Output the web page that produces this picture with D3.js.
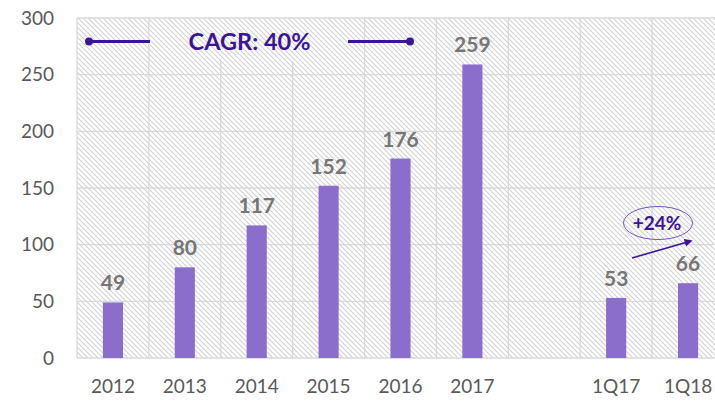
<!DOCTYPE html>
<html><head><meta charset="utf-8">
<script src="https://cdn.jsdelivr.net/npm/d3@7"></script>
<style>body{margin:0;background:#fff;}svg{display:block;font-family:Lato,"Open Sans",sans-serif;}</style>
</head><body>
<svg id="c" width="715" height="401"></svg>
<script>
const categories = ["2012","2013","2014","2015","2016","2017","","1Q17","1Q18"];
const values = [49,80,117,152,176,259,null,53,66];
const yTicks = [0,50,100,150,200,250,300];
const cagrLabel = "CAGR: 40%";
const growthLabel = "+24%";

const svg = d3.select("#c");
const m = {left:77, top:18, bottom:358, right:724};

const x = d3.scaleBand().domain(d3.range(categories.length)).range([m.left, m.right]).paddingInner(0).paddingOuter(0);
const y = d3.scaleLinear().domain([0,300]).range([m.bottom, m.top]);

const defs = svg.append("defs");
const pat = defs.append("pattern").attr("id","hatch").attr("patternUnits","userSpaceOnUse")
  .attr("width",5).attr("height",5);
pat.append("rect").attr("width",5).attr("height",5).attr("fill","#fff");
pat.append("path").attr("d","M-1,-1 L6,6 M-1,4 L1,6 M4,-1 L6,1").attr("stroke","#d3d3d3").attr("stroke-width",1.1);

svg.append("rect").attr("x",m.left).attr("y",m.top).attr("width",m.right-m.left).attr("height",m.bottom-m.top).attr("fill","url(#hatch)");

svg.append("g").selectAll("line").data(yTicks).join("line")
  .attr("x1",m.left).attr("x2",m.right).attr("y1",d=>y(d)).attr("y2",d=>y(d))
  .attr("stroke","#d9d9d9").attr("stroke-width",1.3);
svg.append("g").selectAll("line").data(d3.range(categories.length+1)).join("line")
  .attr("x1",d=>m.left+d*x.step()).attr("x2",d=>m.left+d*x.step())
  .attr("y1",m.top).attr("y2",m.bottom)
  .attr("stroke","#d9d9d9").attr("stroke-width",1.3);

svg.append("rect").attr("x",152).attr("y",m.top+1).attr("width",210).attr("height",42).attr("fill","url(#hatch)");

svg.append("g").selectAll("text").data(yTicks).join("text")
  .attr("x",54).attr("y",d=>y(d)+6.5).attr("text-anchor","end")
  .attr("font-size",19).attr("fill","#595959").text(d=>d);

svg.append("g").selectAll("text").data(categories).join("text")
  .attr("x",(d,i)=>x(i)+x.bandwidth()/2).attr("y",393).attr("text-anchor","middle")
  .attr("font-size",19).attr("fill","#595959").text(d=>d);

const bw = x.bandwidth()*0.28;
const data = values.map((v,i)=>({v,i})).filter(d=>d.v!=null);
svg.append("g").selectAll("rect").data(data).join("rect")
  .attr("x",d=>x(d.i)+x.bandwidth()/2-bw/2).attr("width",bw)
  .attr("y",d=>y(d.v)).attr("height",d=>y(0)-y(d.v))
  .attr("fill","#8b6dcb");

svg.append("g").selectAll("text").data(data).join("text")
  .attr("x",d=>x(d.i)+x.bandwidth()/2).attr("y",d=>y(d.v)-12).attr("text-anchor","middle")
  .attr("font-size",21).attr("font-weight","bold").attr("fill","#767676").text(d=>d.v);

const pc = "#3d1496";
const g = svg.append("g");
g.append("line").attr("x1",89).attr("x2",150).attr("y1",41.5).attr("y2",41.5).attr("stroke",pc).attr("stroke-width",3);
g.append("line").attr("x1",348).attr("x2",410).attr("y1",41.5).attr("y2",41.5).attr("stroke",pc).attr("stroke-width",3);
g.append("circle").attr("cx",89).attr("cy",41.5).attr("r",4).attr("fill",pc);
g.append("circle").attr("cx",410).attr("cy",41.5).attr("r",4).attr("fill",pc);
g.append("text").attr("x",249.5).attr("y",50).attr("text-anchor","middle").attr("font-size",23.5)
  .attr("font-weight","bold").attr("fill",pc).text(cagrLabel);

defs.append("marker").attr("id","arr").attr("viewBox","0 0 10 10").attr("refX",8).attr("refY",5)
  .attr("markerWidth",5).attr("markerHeight",5).attr("orient","auto")
  .append("path").attr("d","M0,0 L10,5 L0,10 z").attr("fill",pc);
svg.append("line").attr("x1",632).attr("y1",258).attr("x2",691).attr("y2",241)
  .attr("stroke",pc).attr("stroke-width",1.6).attr("marker-end","url(#arr)");
svg.append("ellipse").attr("cx",658).attr("cy",223).attr("rx",34.5).attr("ry",16.5)
  .attr("fill","none").attr("stroke","#7a4fc4").attr("stroke-width",1);
svg.append("text").attr("x",657).attr("y",229.5).attr("text-anchor","middle").attr("font-size",19)
  .attr("font-weight","bold").attr("fill",pc).text(growthLabel);
</script>
</body></html>
